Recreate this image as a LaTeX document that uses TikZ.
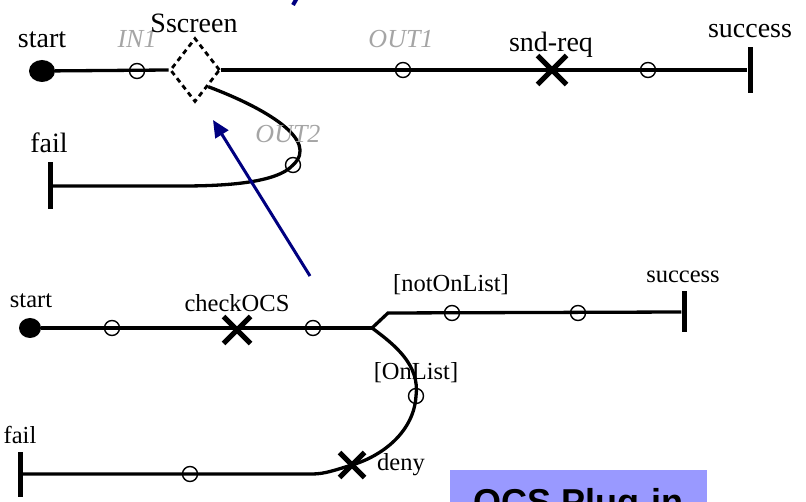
\documentclass[tikz,border=0pt]{standalone}
\usepackage{fontspec}
\setmainfont{Liberation Serif}
\newfontfamily\plugfont{Liberation Sans}
\usetikzlibrary{shapes.geometric,shapes.misc,arrows.meta}
\definecolor{navyarrow}{RGB}{0,0,128}
\definecolor{portgray}{RGB}{165,165,165}
\definecolor{plugblue}{RGB}{153,153,255}

\begin{document}
\begin{tikzpicture}[x=1pt,y=-1pt,
  flow/.style={line width=3.3pt},
  startdot/.style={ellipse, fill=black, inner sep=0pt, minimum width=#1},
  place/.style={circle, draw, line width=1.4pt, minimum size=15pt, inner sep=0pt},
  event/.style={cross out, draw, line width=5pt, inner sep=0pt, minimum size=#1},
  endbar/.style={rectangle, fill=black, inner sep=0pt, minimum width=5pt, minimum height=#1},
  lbltop/.style={anchor=base, font=\fontsize{28}{30}\selectfont, inner sep=0pt},
  lblbot/.style={anchor=base, font=\fontsize{24.5}{26}\selectfont, inner sep=0pt},
  port/.style={anchor=base, font=\fontsize{26}{28}\selectfont\itshape, text=portgray, inner sep=0pt},
  plugbox/.style={fill=plugblue, inner sep=0pt, minimum width=257pt, minimum height=70pt,
    font=\plugfont\bfseries\fontsize{36}{40}\selectfont}
]
\useasboundingbox (0,0) rectangle (806,502);
\clip (0,0) rectangle (806,502);

% ---------- upper path: Sscreen with two outputs ----------
\node[startdot=26pt, minimum height=22pt] (s1) at (42,71) {};
\node[place] (in1) at (137,71) {};
\node[diamond, draw, dashed, dash pattern=on 5pt off 4pt, line width=2.8pt,
      minimum width=50pt, minimum height=64pt, inner sep=0pt] (scr) at (195,70) {};
\node[place] (out1) at (403,70) {};
\node[event=24pt] (snd) at (552,70) {};
\node[place] (p2) at (648,70) {};
\node[endbar=46pt] (succ1) at (750,70) {};
\node[place] (out2) at (293,165) {};
\node[endbar=47pt] (fail1) at (50,186) {};
\coordinate (k1) at (182,186);

\draw[flow] (s1) -- (scr.west);
\draw[flow] (scr.east) -- (succ1.west);
\draw[flow] (scr.south east) .. controls (265,108) and (320,140) .. (out2.center)
  .. controls (277,183) and (225,186) .. (k1) -- (fail1.east);

\node[lbltop] (ls1) at (42,48) {start};
\node[port] (lin1) at (137,48) {IN1};
\node[lbltop] (lscr) at (194,33) {Sscreen};
\node[port] (lout1) at (401,48) {OUT1};
\node[lbltop] (lsnd) at (551,52) {snd-req};
\node[lbltop] (lsucc1) at (750,38) {success};
\node[lbltop] (lfail1) at (49,153) {fail};
\node[port] (lout2) at (288,143) {OUT2};

% ---------- lower path: checkOCS with list branches ----------
\node[startdot=22pt, minimum height=20pt] (s2) at (30,328) {};
\node[place] (p3) at (112,328) {};
\node[event=22pt] (chk) at (237,330) {};
\node[place] (p4) at (313,328) {};
\coordinate (br) at (372,328);
\coordinate (k2) at (388,313);
\node[place] (p5) at (452,313) {};
\node[place] (p6) at (578,313) {};
\node[endbar=41pt] (succ2) at (684,312) {};
\node[place] (p7) at (416,396) {};
\node[event=20pt] (deny) at (352,465) {};
\node[place] (p8) at (190,474) {};
\node[endbar=45pt] (fail2) at (20,474) {};
\coordinate (k3) at (312,474);

\draw[flow] (s2) -- (br);
\draw[flow] (br) -- (k2) -- (succ2.west);
\draw[flow] (br) .. controls (395,345) and (420,365) .. (p7.center)
  .. controls (414,430) and (385,455) .. (deny.center);
\draw[flow] (deny.center) .. controls (335,470) and (325,474) .. (k3) -- (fail2.east);

\node[lblbot] (ls2) at (31,308) {start};
\node[lblbot] (lchk) at (237,312) {checkOCS};
\node[lblbot] (lnot) at (451,292) {[notOnList]};
\node[lblbot] (lsucc2) at (683,283) {success};
\node[lblbot] (lon) at (416,380) {[OnList]};
\node[lblbot] (ldeny) at (401,470) {deny};
\node[lblbot] (lfail2) at (20,443) {fail};

% ---------- pointer from the plug-in path to the screening place ----------
\coordinate (atail) at (310,276);
\coordinate (ahead) at (213,120);
\draw[navyarrow, line width=3pt, -{Triangle[length=17pt,width=15pt]}] (atail) -- (ahead);
\draw[navyarrow, line width=4pt] (297,-2) -- (293,5);

% ---------- caption box ----------
\node[plugbox] (plug) at (578.5,505) {OCS Plug-in};
\end{tikzpicture}
\end{document}
